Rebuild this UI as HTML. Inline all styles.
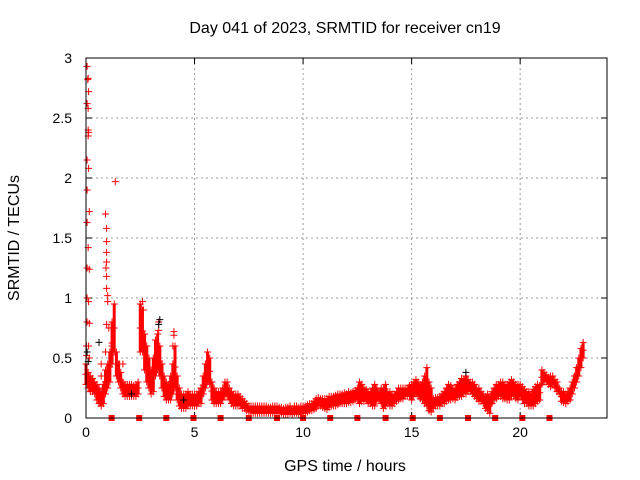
<!DOCTYPE html>
<html><head><meta charset="utf-8"><style>
html,body{margin:0;padding:0;background:#fff;}
svg{display:block;font-family:"Liberation Sans",sans-serif;}
</style></head><body>
<svg id="chart" width="640" height="480">
<text x="345" y="33" font-size="16" text-anchor="middle">Day 041 of 2023, SRMTID for receiver cn19</text>
<text x="345" y="471" font-size="16" text-anchor="middle">GPS time / hours</text>
<text x="19" y="238" font-size="16" text-anchor="middle" transform="rotate(-90 19 238)">SRMTID / TECUs</text>
<g id="grid"></g>
<g id="axes"></g>
<g id="marks"></g>
<rect x="86" y="58" width="521" height="360" fill="none" stroke="#000" stroke-width="1"/>
</svg>
<script>
const xTicks=[0,5,10,15,20];
const yTicks=[0,0.5,1,1.5,2,2.5,3];
const yTickLabels=["0","0.5","1","1.5","2","2.5","3"];
const tStart=0, tStep=0.1;
const lo=[.28,.25,.22,.22,.2,.15,.12,.1,.12,.2,
.25,.3,.45,.55,.35,.3,.25,.2,.18,.18,
.18,.18,.18,.18,.2,.55,.55,.4,.3,.25,
.2,.22,.35,.4,.35,.25,.18,.15,.15,.15,
.2,.25,.15,.1,.08,.08,.08,.1,.1,.1,
.1,.1,.12,.12,.2,.25,.3,.28,.15,.12,
.12,.12,.12,.15,.18,.18,.15,.12,.1,.1,
.1,.1,.08,.08,.06,.05,.05,.04,.04,.04,
.04,.04,.04,.04,.04,.04,.04,.04,.04,.04,
.04,.03,.03,.03,.04,.03,.04,.04,.03,.04,
.04,.04,.05,.06,.06,.07,.08,.1,.1,.09,
.08,.07,.09,.1,.1,.1,.11,.12,.12,.12,
.12,.13,.13,.14,.15,.15,.12,.14,.14,.15,
.12,.12,.1,.1,.14,.15,.12,.08,.1,.12,
.1,.1,.12,.14,.15,.16,.16,.18,.18,.18,
.15,.18,.2,.18,.16,.15,.12,.1,.06,.05,
.08,.1,.1,.1,.12,.12,.14,.15,.15,.16,
.15,.17,.18,.18,.2,.2,.22,.22,.2,.18,
.16,.14,.14,.12,.08,.06,.04,.12,.15,.16,
.18,.18,.16,.16,.15,.15,.18,.18,.16,.15,
.18,.15,.12,.12,.1,.1,.1,.12,.14,.15,
.28,.3,.3,.28,.26,.28,.25,.22,.2,.14,
.13,.12,.14,.15,.2,.25,.3,.35,.42,.5];
const hi=[.45,.38,.35,.33,.3,.28,.25,.22,.28,.4,
.45,.55,.8,.95,.55,.45,.38,.3,.28,.28,
.28,.28,.27,.28,.3,.95,.9,.7,.6,.5,
.4,.5,.65,.7,.6,.45,.35,.3,.28,.35,
.45,.6,.35,.25,.2,.2,.2,.22,.2,.2,
.2,.2,.22,.25,.35,.45,.55,.5,.3,.25,
.22,.22,.22,.25,.3,.3,.25,.22,.2,.2,
.2,.18,.16,.14,.12,.1,.1,.1,.1,.1,
.1,.1,.1,.1,.09,.09,.1,.1,.1,.09,
.09,.08,.09,.09,.1,.08,.1,.1,.09,.1,
.1,.1,.11,.12,.12,.14,.16,.17,.16,.16,
.16,.16,.18,.18,.18,.19,.2,.2,.2,.21,
.2,.22,.21,.22,.23,.25,.3,.28,.25,.24,
.22,.22,.25,.28,.25,.22,.25,.25,.28,.22,
.22,.2,.2,.22,.25,.25,.25,.25,.25,.27,
.28,.3,.32,.3,.28,.3,.35,.42,.3,.25,
.16,.17,.17,.18,.2,.22,.25,.28,.27,.25,
.25,.28,.3,.33,.32,.35,.32,.3,.3,.28,
.25,.25,.22,.2,.18,.2,.18,.22,.25,.28,
.28,.3,.3,.28,.28,.3,.32,.3,.28,.28,
.28,.26,.24,.22,.22,.2,.24,.26,.28,.27,
.4,.38,.36,.34,.35,.35,.32,.3,.25,.22,
.22,.2,.22,.25,.3,.35,.42,.5,.58,.63];
const spikeT=[0.05,0.08,0.1,0.12,0.05,0.1,0.1,0.12,0.1,0.05,0.12,0.05,0.15,0.05,0.1,0.05,0.15,0.05,0.12,0.05,0.15,0.02,0.12,0.02,0.15,0.9,0.95,0.95,0.95,0.95,0.92,0.95,0.95,1.0,1.0,1.35,0.95,1.05,0.7,0.7,0.9,1.2,2.6,2.65,3.35,3.35,4.05,4.05,4.0,1.55,1.7];
const spikeV=[2.93,2.82,2.83,2.72,2.62,2.58,2.4,2.38,2.35,2.15,2.08,1.9,1.72,1.63,1.42,1.25,1.24,1.0,0.97,0.8,0.79,0.6,0.6,0.52,0.5,1.7,1.58,1.47,1.38,1.3,1.25,1.18,1.08,1.02,0.97,1.97,0.78,0.75,0.35,0.45,0.55,0.6,0.97,0.9,0.8,0.73,0.72,0.69,0.6,0.45,0.45];
const blackT=[0.05,0.1,0.6,3.4,3.35,17.5,4.5,2.1];
const blackV=[0.55,0.47,0.63,0.82,0.78,0.38,0.15,0.2];
const gapT=[1.18,2.45,3.7,4.95,6.2,7.5,8.8,10.0,11.25,12.5,13.8,15.05,16.3,17.6,18.85,20.1,21.35];

const X0=86,X1=607,Y0=418,Y1=58,XMAX=24,YMAX=3;
const sx=t=>X0+(X1-X0)*t/XMAX;
const sy=v=>Y0-(Y0-Y1)*v/YMAX;
const NS="http://www.w3.org/2000/svg";
function mk(tag,parent,attrs){const e=document.createElementNS(NS,tag);for(const k in attrs)e.setAttribute(k,attrs[k]);parent.appendChild(e);return e;}
const grid=document.getElementById('grid'),axes=document.getElementById('axes'),marks=document.getElementById('marks');
xTicks.forEach(t=>{
  const x=sx(t);
  if(t>0){const g=mk('line',grid,{x1:x,x2:x,y1:Y1,y2:Y0,stroke:'#999','stroke-dasharray':'2,3'});
  
  }
  mk('line',axes,{x1:x,x2:x,y1:Y0,y2:Y0-6,stroke:'#000'});
  mk('line',axes,{x1:x,x2:x,y1:Y1,y2:Y1+6,stroke:'#000'});
  const l=mk('text',axes,{x:x,y:Y0+19,'font-size':14,'text-anchor':'middle'});l.textContent=String(t);
  
  
});
yTicks.forEach((v,i)=>{
  const y=sy(v);
  if(v>0&&v<3){const g=mk('line',grid,{x1:X0,x2:X1,y1:y,y2:y,stroke:'#999','stroke-dasharray':'2,3'});
  
  }
  mk('line',axes,{x1:X0,x2:X0+6,y1:y,y2:y,stroke:'#000'});
  mk('line',axes,{x1:X1,x2:X1-6,y1:y,y2:y,stroke:'#000'});
  const l=mk('text',axes,{x:X0-14,y:y+5,'font-size':14,'text-anchor':'end'});l.textContent=yTickLabels[i];
  
  
});
function cross(parent,t,v,col){
  const x=sx(t),y=sy(v);
  const p=mk('path',parent,{d:`M${x-3.5},${y}h7M${x},${y-3.5}v7`,stroke:col,'stroke-width':1,fill:'none'});
  
  
}
lo.forEach((l,i)=>{
  const t=tStart+i*tStep,h=hi[i];
  const b=mk('line',marks,{x1:sx(t),x2:sx(t),y1:sy(l),y2:sy(h),stroke:'#f00','stroke-width':3});
  
  
  cross(marks,t,l,'#f00');cross(marks,t,h,'#f00');cross(marks,t,(l+h)/2,'#f00');
});
spikeT.forEach((t,i)=>cross(marks,t,spikeV[i],'#f00'));
blackT.forEach((t,i)=>cross(marks,t,blackV[i],'#000'));
gapT.forEach(t=>{
  const r=mk('rect',marks,{x:sx(t)-3,y:Y0-3,width:6,height:6,fill:'#f00'});
  
  
});
</script>
</body></html>
